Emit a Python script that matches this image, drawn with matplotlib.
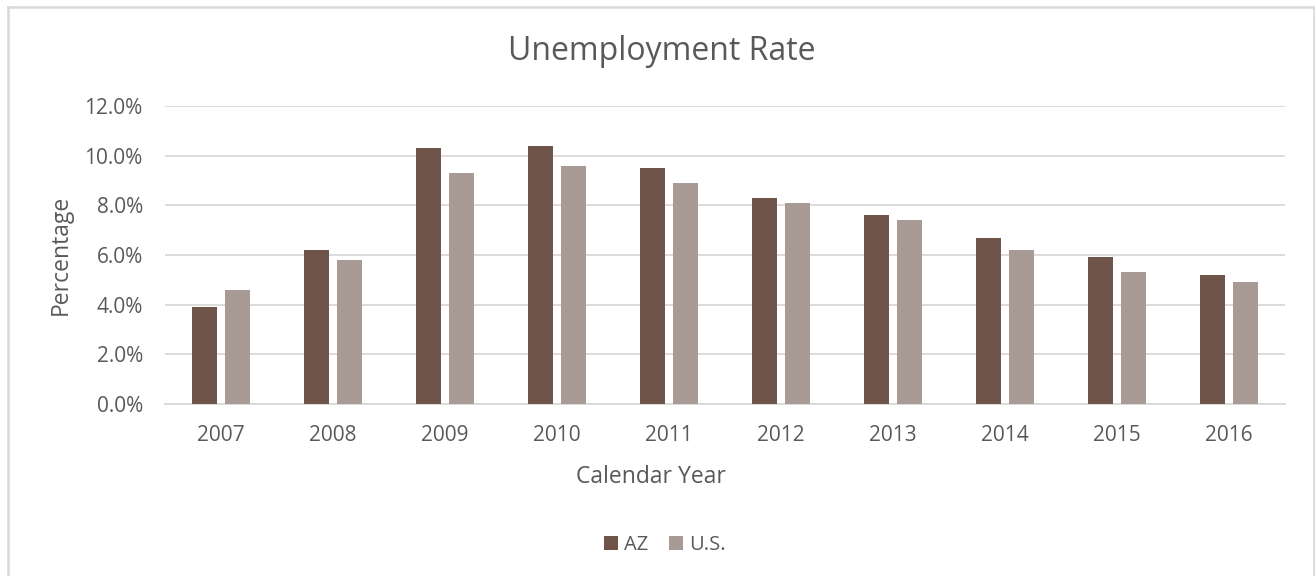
import matplotlib.pyplot as plt
import numpy as np
from matplotlib.lines import Line2D
from matplotlib.ticker import FuncFormatter

plt.rcParams['font.family'] = ['Open Sans', 'DejaVu Sans']

# datos
years = ['2007', '2008', '2009', '2010', '2011', '2012', '2013', '2014', '2015', '2016']
az = [3.9, 6.2, 10.3, 10.4, 9.5, 8.3, 7.6, 6.7, 5.9, 5.2]
us = [4.6, 5.8, 9.3, 9.6, 8.9, 8.1, 7.4, 6.2, 5.3, 4.9]

col_az = '#6F5449'
col_us = '#A89A94'
txt = '#595959'
borde = '#D9D9D9'

W, H = 1315, 576
fig = plt.figure(figsize=(W / 100, H / 100), dpi=100)
ax = fig.add_axes([165 / W, 1 - 404 / H, 1120 / W, 298 / H])

x = np.arange(len(years))
w = 0.223
off = 0.143
ax.bar(x - off, az, w, color=col_az, label='AZ', zorder=3)
ax.bar(x + off, us, w, color=col_us, label='U.S.', zorder=3)

ax.set_xlim(-0.5, len(years) - 0.5)
ax.set_ylim(0, 12)
ax.set_yticks(np.arange(0, 12.1, 2))
ax.yaxis.set_major_formatter(FuncFormatter(lambda v, p: f'{v:.1f}%'))
ax.set_xticks(x)
ax.set_xticklabels(years)
ax.grid(axis='y', color=borde, lw=1.3, zorder=0)
for s in ['top', 'right', 'left']:
    ax.spines[s].set_visible(False)
ax.spines['bottom'].set_color(borde)
ax.spines['bottom'].set_linewidth(1.3)
ax.tick_params(length=0, labelsize=15, colors=txt)
ax.tick_params(axis='x', pad=15)
ax.tick_params(axis='y', pad=16)

fig.text(662 / W, 1 - 51 / H, 'Unemployment Rate', ha='center', va='center', fontsize=23, color=txt)
fig.text(651 / W, 1 - 477 / H, 'Calendar Year', ha='center', va='center', fontsize=16.5, color=txt)
fig.text(61 / W, 1 - 255 / H, 'Percentage', ha='center', va='center', rotation=90,
         fontsize=16.5, color=txt)

fig.legend(loc='center', bbox_to_anchor=(665 / W, 1 - 545 / H), ncol=2, frameon=False,
           fontsize=14.5, labelcolor=txt, handlelength=0.7, handleheight=0.7,
           handletextpad=0.3, columnspacing=1.0)

# borde del area del grafico (recortado abajo)
for xs, ys in [([8, 8], [0, 7]), ([8, 1314], [7, 7]), ([1314, 1314], [7, 0])]:
    fig.add_artist(Line2D([v / W for v in xs], [1 - v / H if v else 0 for v in ys],
                          transform=fig.transFigure, color=borde, lw=1.8))

fig.savefig('out.png', dpi=100)
